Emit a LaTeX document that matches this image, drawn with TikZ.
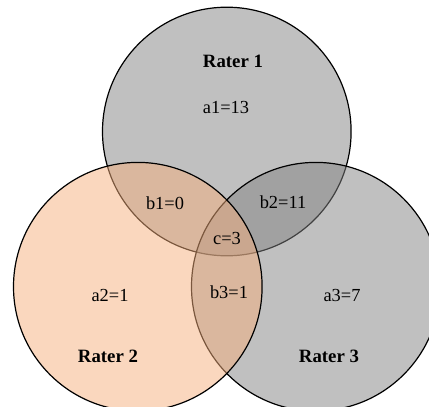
\documentclass[tikz,border=0pt]{standalone}
\usepackage{fontspec}
\setmainfont{Liberation Serif}
\usetikzlibrary{positioning}
\definecolor{RaterGray}{RGB}{130, 130, 130}
\definecolor{RaterPeach}{RGB}{245, 175, 125}

\begin{document}
\begin{tikzpicture}[
    x=0.5pt, y=-0.5pt,
    every node/.style={inner sep=0pt, font=\fontsize{9.2}{11}\selectfont},
    rater/.style={draw=black, line width=0.6pt, fill opacity=0.5},
    title/.style={font=\fontsize{9.4}{11}\selectfont\bfseries},
    count/.style={}
]
\useasboundingbox (0,0) rectangle (429,407);
\clip (0,0) rectangle (429,407);

% --- Circles ------------------------------------------------------------
\coordinate (c1) at (226.8,131.5);
\coordinate (c3) at (315.8,286.7);
\coordinate (c2) at (137.8,286.7);
\draw[rater, fill=RaterGray]  (c1) circle[radius=124.3];
\draw[rater, fill=RaterGray]  (c3) circle[radius=124.3];
\draw[rater, fill=RaterPeach] (c2) circle[radius=124.3];

% --- Labels -------------------------------------------------------------
\node[title] (r1) at (233,61)  {Rater 1};
\node[title] (r2) at (108,356) {Rater 2};
\node[title] (r3) at (329,356) {Rater 3};

\node[count] (a1) at (226,107) {a1=13};
\node[count] (a2) at (110,295) {a2=1};
\node[count] (a3) at (342,295) {a3=7};
\node[count] (b1) at (165,203) {b1=0};
\node[count] (b2) at (283,202) {b2=11};
\node[count] (b3) at (229,292) {b3=1};
\node[count] (cc) at (227,238) {c=3};

\end{tikzpicture}
\end{document}
